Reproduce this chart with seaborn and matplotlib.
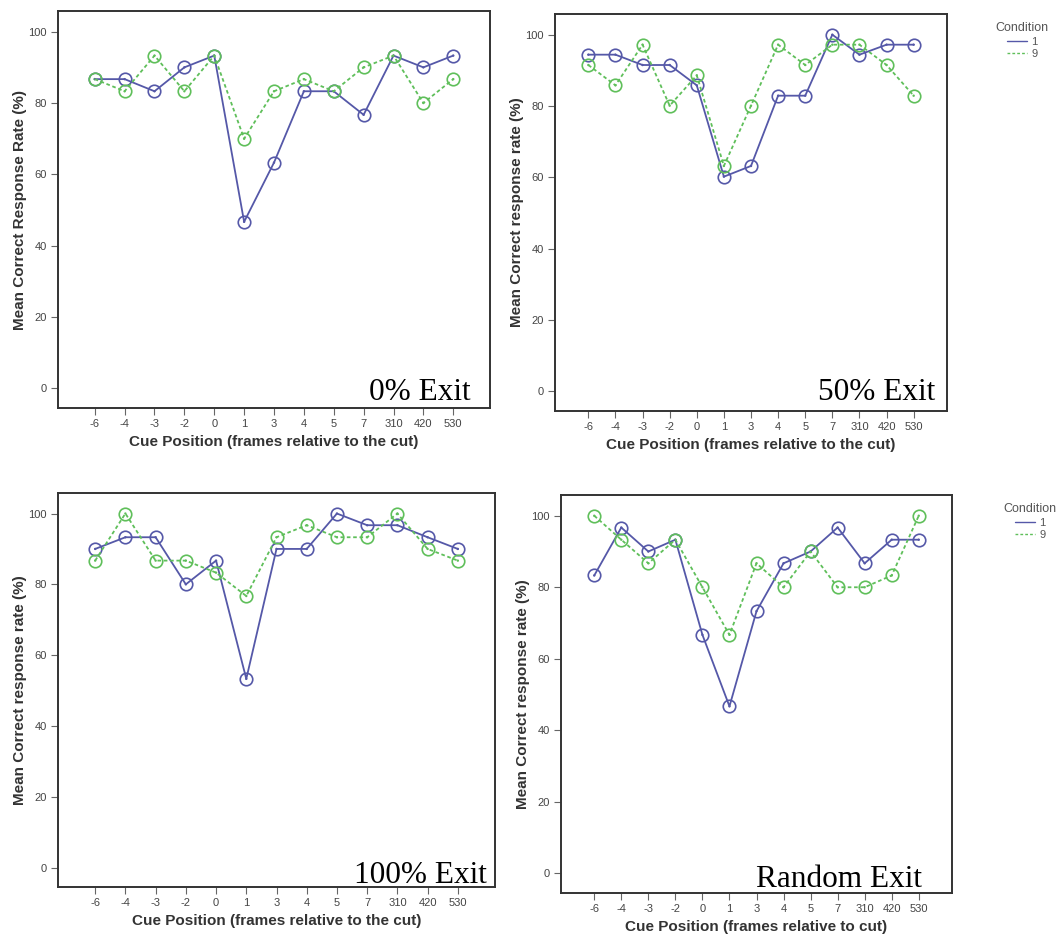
import matplotlib
matplotlib.use("Agg")
import matplotlib.pyplot as plt
import seaborn as sns
import pandas as pd

sns.set_theme(style="white")
plt.rcParams['font.family'] = ['Liberation Sans', 'DejaVu Sans']

cue_labels = ["-6", "-4", "-3", "-2", "0", "1", "3", "4", "5", "7", "310", "420", "530"]
conditions = ["1", "9"]

exit0_c1 = [86.7, 86.7, 83.3, 90.0, 93.3, 46.7, 63.3, 83.3, 83.3, 76.7, 93.3, 90.0, 93.3]
exit0_c9 = [86.7, 83.3, 93.3, 83.3, 93.3, 70.0, 83.3, 86.7, 83.3, 90.0, 93.3, 80.0, 86.7]

exit50_c1 = [94.4, 94.4, 91.5, 91.5, 85.8, 60.2, 63.2, 82.9, 82.9, 100.0, 94.4, 97.2, 97.2]
exit50_c9 = [91.5, 85.8, 97.2, 80.1, 88.6, 63.2, 80.1, 97.2, 91.5, 97.2, 97.2, 91.5, 82.9]

exit100_c1 = [90.0, 93.3, 93.3, 80.0, 86.7, 53.3, 90.0, 90.0, 100.0, 96.7, 96.7, 93.3, 90.0]
exit100_c9 = [86.7, 100.0, 86.7, 86.7, 83.3, 76.7, 93.3, 96.7, 93.3, 93.3, 100.0, 90.0, 86.7]

exitR_c1 = [83.3, 96.7, 90.0, 93.3, 66.7, 46.7, 73.3, 86.7, 90.0, 96.7, 86.7, 93.3, 93.3]
exitR_c9 = [100.0, 93.3, 86.7, 93.3, 80.0, 66.7, 86.7, 80.0, 90.0, 80.0, 80.0, 83.3, 100.0]

panels = [
    dict(c1=exit0_c1, c9=exit0_c9, title="0% Exit",
         ylabel="Mean Correct Response Rate (%)",
         xlabel="Cue Position (frames relative to the cut)",
         rect=[58, 11, 490, 408], txt=(0.956, 0.020), legend=None),
    dict(c1=exit50_c1, c9=exit50_c9, title="50% Exit",
         ylabel="Mean Correct response rate (%)",
         xlabel="Cue Position (frames relative to the cut)",
         rect=[555, 14, 947, 411], txt=(0.969, 0.028), legend=(1022, 14)),
    dict(c1=exit100_c1, c9=exit100_c9, title="100% Exit",
         ylabel="Mean Correct response rate (%)",
         xlabel="Cue Position (frames relative to the cut)",
         rect=[58, 493, 495, 887], txt=(0.982, 0.010), legend=None),
    dict(c1=exitR_c1, c9=exitR_c9, title="Random Exit",
         ylabel="Mean Correct response rate (%)",
         xlabel="Cue Position (frames relative to cut)",
         rect=[561, 495, 952, 893], txt=(0.923, 0.015), legend=(1030, 495)),
]

W, H = 1061, 935
fig = plt.figure(figsize=(W / 100, H / 100), dpi=100)
fig.patch.set_facecolor("white")

blue = "#5558a8"
green = "#5fbf5a"
palette = {"1": blue, "9": green}

for p in panels:
    x0, y0, x1, y1 = p["rect"]
    ax = fig.add_axes([x0 / W, (H - y1) / H, (x1 - x0) / W, (y1 - y0) / H])
    df = pd.DataFrame({
        "pos": list(range(len(cue_labels))) * 2,
        "rate": p["c1"] + p["c9"],
        "Condition": ["1"] * len(cue_labels) + ["9"] * len(cue_labels),
    })
    sns.lineplot(data=df, x="pos", y="rate", hue="Condition", style="Condition",
                 hue_order=conditions, style_order=conditions,
                 palette=palette, dashes={"1": "", "9": (2, 1.5)},
                 markers={"1": "o", "9": "o"}, markersize=9, markerfacecolor="none",
                 markeredgewidth=1.2, linewidth=1.3, ax=ax, legend=p["legend"] is not None)
    # small centre dots inside the circles
    sns.scatterplot(data=df, x="pos", y="rate", hue="Condition", hue_order=conditions,
                    palette=palette, s=3, linewidth=0, ax=ax, legend=False)
    for ln in ax.lines:
        ln.set_markeredgecolor(ln.get_color())
    ax.set_xlim(-1.23, len(cue_labels) - 1 + 1.23)
    ax.set_ylim(-5.5, 105.8)
    ax.set_xticks(range(len(cue_labels)))
    ax.set_xticklabels(cue_labels)
    ax.set_yticks([0, 20, 40, 60, 80, 100])
    ax.tick_params(axis="both", which="both", direction="out", length=5, width=0.8,
                   color="#666666", labelsize=8, labelcolor="#444444", pad=3,
                   bottom=True, left=True)
    for s in ax.spines.values():
        s.set_color("#333333")
        s.set_linewidth(1.4)
    ax.set_xlabel(p["xlabel"], fontsize=11, fontweight="bold", color="#333333", labelpad=4)
    ax.set_ylabel(p["ylabel"], fontsize=11, fontweight="bold", color="#333333", labelpad=1)
    ax.text(p["txt"][0], p["txt"][1], p["title"], transform=ax.transAxes,
            ha="right", va="baseline", fontsize=22.5, family="Liberation Serif", color="black")
    if p["legend"] is not None:
        lx, ly = p["legend"]
        leg = ax.legend(title="Condition", loc="upper center",
                        bbox_to_anchor=(lx / W, 1 - ly / H), bbox_transform=fig.transFigure,
                        frameon=False, fontsize=8, title_fontsize=9, handlelength=1.8,
                        handletextpad=0.4, labelspacing=0.25, borderpad=0.2)
        for t in leg.get_texts():
            t.set_color("#555555")
        leg.get_title().set_color("#555555")
        for h in leg.get_lines():
            h.set_marker("")
            h.set_linewidth(1.0)

fig.savefig("out.png", dpi=100, facecolor="white")
